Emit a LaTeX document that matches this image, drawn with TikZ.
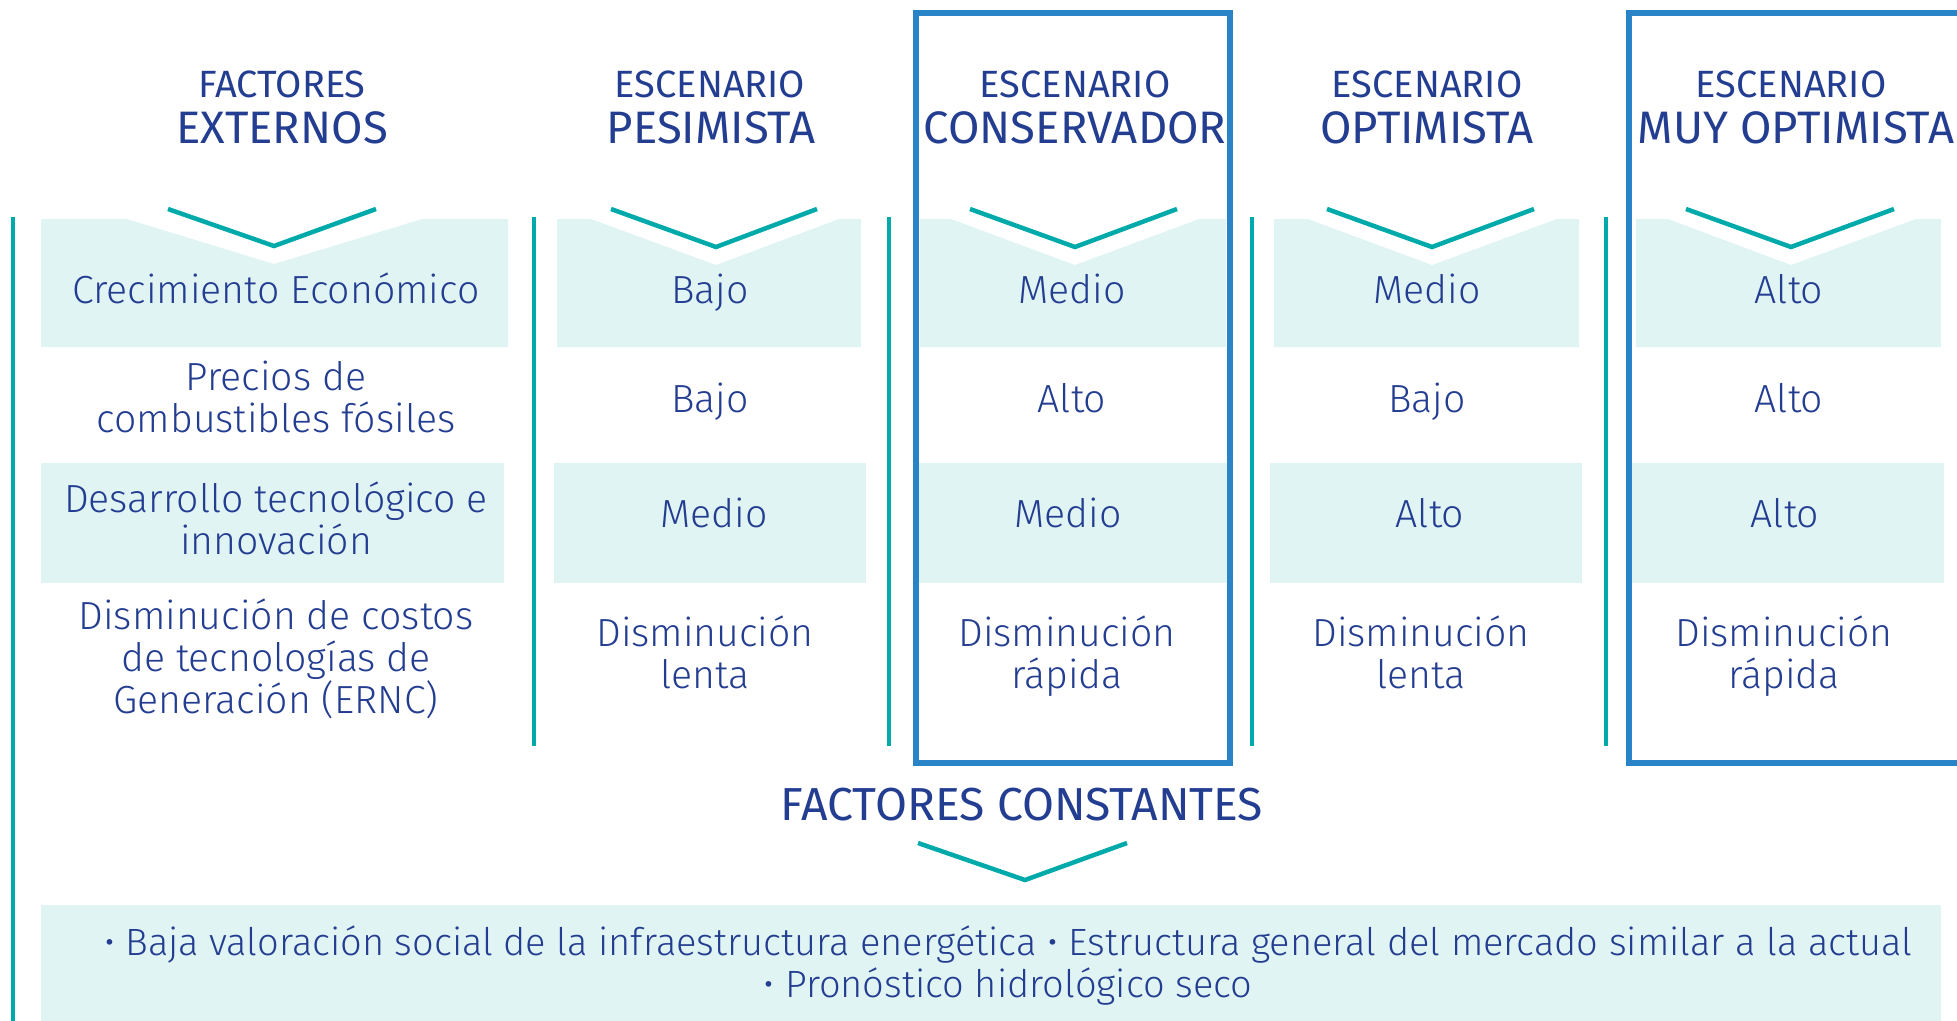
\documentclass[tikz,border=0pt]{standalone}
\usepackage{fontspec}
\setmainfont{Fira Sans Light}
\newfontfamily\headfont{Fira Sans}
\definecolor{ink}{RGB}{35,61,145}
\definecolor{tealline}{RGB}{0,170,170}
\definecolor{boxblue}{RGB}{40,132,198}
\definecolor{cellbg}{RGB}{225,244,244}
\begin{document}
\begin{tikzpicture}[x=1pt,y=-1pt,
  body/.style={font=\fontsize{39.2}{42}\selectfont, text=ink, align=center, inner sep=0pt, anchor=base},
  bandtext/.style={font=\fontsize{38}{42}\selectfont, text=ink, align=center, inner sep=0pt, anchor=base},
  headsm/.style={font=\headfont\fontsize{38}{40}\selectfont, text=ink, inner sep=0pt, anchor=base},
  headlg/.style={font=\headfont\fontsize{45.5}{46}\selectfont, text=ink, inner sep=0pt, anchor=base},
  cellfill/.style={fill=cellbg},
  divider/.style={draw=tealline, line width=4pt},
  chev/.style={draw=tealline, line width=4.5pt},
  scenbox/.style={draw=boxblue, line width=6pt}]
\useasboundingbox (0,0) rectangle (1957,1020);
% row 1 notched cells
\fill[cellfill] (41,219) -- (127,219) -- (274,264) -- (422,219) -- (508,219) -- (508,347) -- (41,347) -- cycle;
\fill[cellfill] (557,219) -- (591,219) -- (716,265) -- (839,219) -- (861,219) -- (861,347) -- (557,347) -- cycle;
\fill[cellfill] (920,219) -- (951,219) -- (1075,265) -- (1199,219) -- (1226,219) -- (1226,347) -- (920,347) -- cycle;
\fill[cellfill] (1274,219) -- (1308,219) -- (1432,265) -- (1557,219) -- (1579,219) -- (1579,347) -- (1274,347) -- cycle;
\fill[cellfill] (1636,219) -- (1668,219) -- (1791,265) -- (1916,219) -- (1941,219) -- (1941,347) -- (1636,347) -- cycle;
% row 3 cells
\fill[cellfill] (41,463) rectangle (504,583);
\fill[cellfill] (554,463) rectangle (866,583);
\fill[cellfill] (919,463) rectangle (1227,583);
\fill[cellfill] (1270,463) rectangle (1582,583);
\fill[cellfill] (1631,463) rectangle (1944,583);
% bottom band
\fill[cellfill] (41,905) rectangle (1941,1025);
% dividers
\draw[divider] (12.5,217) -- (12.5,1025);
\draw[divider] (534,217) -- (534,746);
\draw[divider] (889,217) -- (889,746);
\draw[divider] (1252,217) -- (1252,746);
\draw[divider] (1606,217) -- (1606,746);
% chevrons
\draw[chev] (168,209) -- (274,246) -- (376,209);
\draw[chev] (611,209) -- (716,247) -- (817,209);
\draw[chev] (970,209) -- (1075,247) -- (1177,209);
\draw[chev] (1327,209) -- (1432,247) -- (1534,209);
\draw[chev] (1686,209) -- (1791,247) -- (1894,209);
\draw[chev] (918,843) -- (1025,880) -- (1127,843);
% scenario boxes
\draw[scenbox] (916,13) rectangle (1230,763);
\draw[scenbox] (1980,13) -- (1629,13) -- (1629,763) -- (1980,763);
% headings
\node[headsm] (h1a) at (282,97) {FACTORES};
\node[headlg] (h1b) at (282,143) {EXTERNOS};
\node[headsm] (h2a) at (710,97) {ESCENARIO};
\node[headlg] (h2b) at (711,143) {PESIMISTA};
\node[headsm] (h3a) at (1075,97) {ESCENARIO};
\node[headlg] (h3b) at (1075,143) {CONSERVADOR};
\node[headsm] (h4a) at (1427,97) {ESCENARIO};
\node[headlg] (h4b) at (1427,143) {OPTIMISTA};
\node[headsm] (h5a) at (1791,97) {ESCENARIO};
\node[headlg] (h5b) at (1796,143) {MUY OPTIMISTA};
% row 1
\node[body] (r1c1) at (276,303) {Crecimiento Económico};
\node[body] (r1c2) at (710,303) {Bajo};
\node[body] (r1c3) at (1072,303) {Medio};
\node[body] (r1c4) at (1427,303) {Medio};
\node[body] (r1c5) at (1789,303) {Alto};
% row 2
\node[body] (r2c1) at (276,432) {Precios de\\combustibles fósiles};
\node[body] (r2c2) at (710,412) {Bajo};
\node[body] (r2c3) at (1072,412) {Alto};
\node[body] (r2c4) at (1427,412) {Bajo};
\node[body] (r2c5) at (1789,412) {Alto};
% row 3
\node[body] (r3c1) at (276,554) {Desarrollo tecnológico e\\innovación};
\node[body] (r3c2) at (714,527) {Medio};
\node[body] (r3c3) at (1068,527) {Medio};
\node[body] (r3c4) at (1430,527) {Alto};
\node[body] (r3c5) at (1785,527) {Alto};
% row 4
\node[body] (r4c1) at (276,713) {Disminución de costos\\de tecnologías de\\Generación (ERNC)};
\node[body] (r4c2) at (705,688) {Disminución\\lenta};
\node[body] (r4c3) at (1067,688) {Disminución\\rápida};
\node[body] (r4c4) at (1421,688) {Disminución\\lenta};
\node[body] (r4c5) at (1784,688) {Disminución\\rápida};
% constants
\node[headlg, font=\headfont\fontsize{46.3}{46}\selectfont] (fc) at (1022,820) {FACTORES CONSTANTES};
\node[bandtext] (bt) at (1008,997) {• Baja valoración social de la infraestructura energética • Estructura general del mercado similar a la actual\\• Pronóstico hidrológico seco};
\end{tikzpicture}
\end{document}
